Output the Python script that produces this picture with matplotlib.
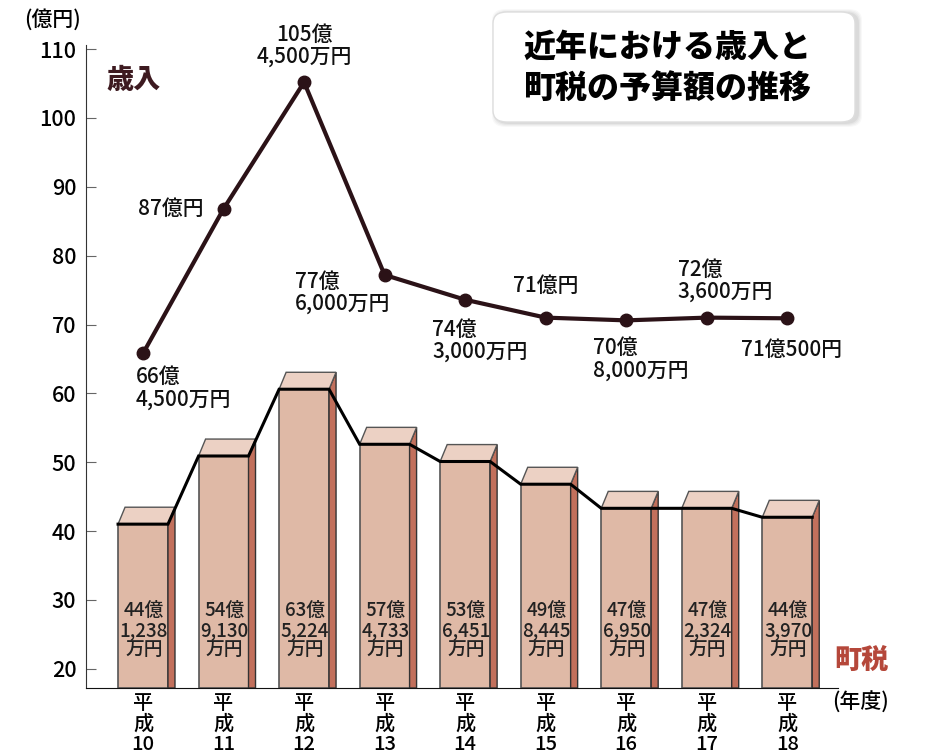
import numpy as np
import matplotlib.pyplot as plt
from matplotlib.patches import Polygon, FancyBboxPatch

plt.rcParams['font.family'] = ['Noto Sans CJK JP', 'DejaVu Sans']
plt.rcParams['font.weight'] = 'medium'

years = ['10', '11', '12', '13', '14', '15', '16', '17', '18']
# revenue line (as plotted, 億円)
revenue = [65.8, 86.8, 105.2, 77.2, 73.6, 71.0, 70.6, 71.0, 70.9]
revenue_labels = ['66億\n4,500万円', '87億円', '105億\n4,500万円', '77億\n6,000万円',
                  '74億\n3,000万円', '71億円', '70億\n8,000万円', '72億\n3,600万円',
                  '71億500円']
# town tax bars (as plotted, 億円)
tax = [41.0, 50.9, 60.6, 52.6, 50.1, 46.8, 43.3, 43.3, 42.0]
tax_labels = ['44億\n1,238\n万円', '54億\n9,130\n万円', '63億\n5,224\n万円',
              '57億\n4,733\n万円', '53億\n6,451\n万円', '49億\n8,445\n万円',
              '47億\n6,950\n万円', '47億\n2,324\n万円', '44億\n3,970\n万円']

# label offsets in pixels: (dx, dy, ha, va)
label_pos = [(-7, -13, 'left', 'top'), (-20, 0, 'right', 'center'),
             (0, 14, 'center', 'bottom'), (-90, 4, 'left', 'top'),
             (-33, -19, 'left', 'top'), (-33, 32, 'left', 'center'),
             (-33, -17, 'left', 'top'), (-29, 15, 'left', 'bottom'),
             (-46, -32, 'left', 'center')]

fig = plt.figure(figsize=(9.28, 7.54), dpi=100)
ax = fig.add_axes([86/928, 1-688/754, (838-86)/928, (688-45)/754])

x = np.arange(len(years))
ymin, ymax = 17.2, 110.6
w = 0.62
ddx, ddy = 0.087, 2.46

front_c = '#dfb9a6'
top_c = '#ecd1c4'
side_c = '#c2705c'
edge_c = '#555555'

step_x = []
step_y = []
for i, h in enumerate(tax):
    l, r = x[i] - w/2, x[i] + w/2
    ax.add_patch(Polygon([[l, ymin], [r, ymin], [r, h], [l, h]], closed=True,
                         facecolor=front_c, edgecolor=edge_c, lw=1.2, zorder=2))
    ax.add_patch(Polygon([[r, ymin], [r+ddx, ymin], [r+ddx, h+ddy], [r, h]], closed=True,
                         facecolor=side_c, edgecolor='#333333', lw=1.0, zorder=2))
    ax.add_patch(Polygon([[l, h], [r, h], [r+ddx, h+ddy], [l+ddx, h+ddy]], closed=True,
                         facecolor=top_c, edgecolor=edge_c, lw=1.0, zorder=2))
    step_x += [l, r]
    step_y += [h, h]
    ax.text(x[i] + 0.01, 25.6, tax_labels[i], ha='center', va='center', fontsize=13.5,
            linespacing=1.02, color='#222222', zorder=4)

ax.plot(step_x, step_y, color='black', lw=2.2, zorder=3, solid_joinstyle='miter')

ax.plot(x, revenue, color='#2b1217', lw=3, marker='o', markersize=9, zorder=5)
for i, v in enumerate(revenue):
    dx, dy, ha, va = label_pos[i]
    ax.annotate(revenue_labels[i], (x[i], v), xytext=(dx, dy), textcoords='offset pixels',
                ha=ha, va=va, fontsize=15, linespacing=1.0, color='#111111')

ax.set_xlim(-0.708, 8.63)
ax.set_ylim(ymin, ymax)
ax.set_yticks(range(20, 111, 10))
ax.tick_params(axis='y', direction='in', length=7, labelsize=15.5, pad=7, color='#666666')
ax.set_xticks(x)
ax.set_xticklabels(['平\n成\n' + y for y in years], fontsize=14.5, linespacing=1.1)
ax.tick_params(axis='x', length=0, pad=4)
ax.spines['top'].set_visible(False)
ax.spines['right'].set_visible(False)
ax.spines['left'].set_color('#333333')
ax.spines['bottom'].set_color('#111111')

fig.text(24/928, 1-20/754, '(億円)', fontsize=15, va='center', ha='left')
fig.text(832/928, 1-703/754, '(年度)', fontsize=15, va='center', ha='left')
fig.text(106/928, 1-80/754, '歳入', fontsize=19.5, fontweight='heavy', color='#3d1a20',
         va='center', ha='left')
fig.text(834/928, 1-660/754, '町税', fontsize=19.5, fontweight='heavy', color='#b5473a',
         va='center', ha='left')

# title box with soft shadow
for k, a in enumerate([0.05, 0.07, 0.09, 0.12]):
    s = (4 - k) * 2
    fig.patches.append(FancyBboxPatch(((496 - s/2)/928, 1-(126 + s/2 - 3)/754),
                                      (362 + s)/928, (110 + s)/754,
                                      boxstyle='round,pad=0,rounding_size=0.015',
                                      transform=fig.transFigure, facecolor='#888888',
                                      edgecolor='none', alpha=a, zorder=0))
fig.patches.append(FancyBboxPatch((493/928, 1-122/754), 362/928, 110/754,
                                  boxstyle='round,pad=0,rounding_size=0.015',
                                  transform=fig.transFigure, facecolor='white',
                                  edgecolor='#dddddd', lw=1, zorder=1))
fig.text(524/928, 1-47/754, '近年における歳入と', fontsize=23, fontweight='heavy',
         va='center', ha='left', zorder=2)
fig.text(524/928, 1-89/754, '町税の予算額の推移', fontsize=23, fontweight='heavy',
         va='center', ha='left', zorder=2)

fig.savefig('out.png', dpi=100)
